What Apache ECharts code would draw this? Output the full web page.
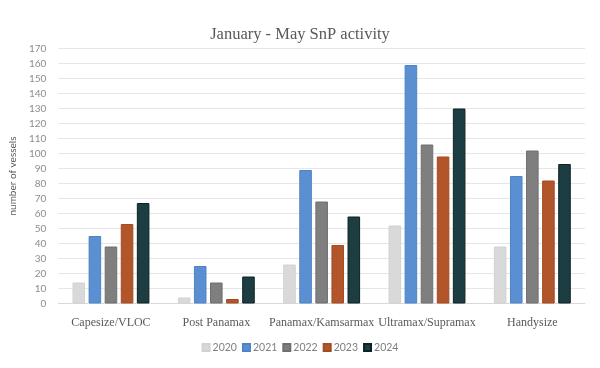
<!DOCTYPE html>
<html><head><meta charset="utf-8">
<script src="https://cdn.jsdelivr.net/npm/echarts@6/dist/echarts.min.js"></script>
<style>html,body{margin:0;padding:0;background:#fff}#c{width:600px;height:368px}</style>
</head><body><div id="c"></div>
<script>
var categories = ["Capesize/VLOC", "Post Panamax", "Panamax/Kamsarmax", "Ultramax/Supramax", "Handysize"];
var years = ["2020", "2021", "2022", "2023", "2024"];
var v2020 = [14, 4, 26, 52, 38];
var v2021 = [45, 25, 89, 159, 85];
var v2022 = [38, 14, 68, 106, 102];
var v2023 = [53, 3, 39, 98, 82];
var v2024 = [67, 18, 58, 130, 93];
var yTicks = [0,10,20,30,40,50,60,70,80,90,100,110,120,130,140,150,160,170];

var values = [v2020, v2021, v2022, v2023, v2024];
var colors = ["#d9d9d9", "#5a8fd2", "#7f7f7f", "#b2552a", "#1c3d41"];
var borders = ["#d2d2d2", "#4f83c4", "#6f6f6f", "#a34b22", "#0e2224"];

var chart = echarts.init(document.getElementById('c'), null, {renderer: 'canvas'});
chart.setOption({
  animation: false,
  backgroundColor: '#ffffff',
  title: {
    text: 'January - May SnP activity',
    left: 'center', top: 21,
    textStyle: {fontFamily: 'Liberation Serif', fontWeight: 'normal', fontSize: 16.5, color: '#595959'}
  },
  legend: {
    data: years, bottom: 10, left: 'center',
    itemWidth: 7, itemHeight: 7, itemGap: 5,
    icon: 'rect',
    textStyle: {fontFamily: 'Lato', fontSize: 10.5, color: '#7f7f7f', padding: [0,0,0,-2]}
  },
  grid: {left: 52, right: 15, top: 48.5, bottom: 64.5, containLabel: false},
  xAxis: {
    type: 'category', data: categories,
    axisLine: {lineStyle: {color: '#d9d9d9'}},
    axisTick: {show: false},
    axisLabel: {fontFamily: 'Liberation Serif', fontSize: 12, color: '#595959', margin: 13, interval: 0}
  },
  yAxis: {
    type: 'value', min: yTicks[0], max: yTicks[yTicks.length-1], interval: 10,
    name: 'number of vessels', nameLocation: 'middle', nameGap: 28, nameRotate: 90,
    nameTextStyle: {fontFamily: 'Lato', fontSize: 10, color: '#595959'},
    axisLine: {show: false}, axisTick: {show: false},
    axisLabel: {fontFamily: 'Lato', fontSize: 10, color: '#8c8c8c', margin: 12},
    splitLine: {lineStyle: {color: '#e6e6e6', width: 1}}
  },
  series: years.map(function(y, i){
    return {
      name: y, type: 'bar', data: values[i],
      barGap: '28%', barCategoryGap: '27%',
      itemStyle: {color: colors[i], borderColor: borders[i], borderWidth: 1}
    };
  })
});
</script></body></html>
